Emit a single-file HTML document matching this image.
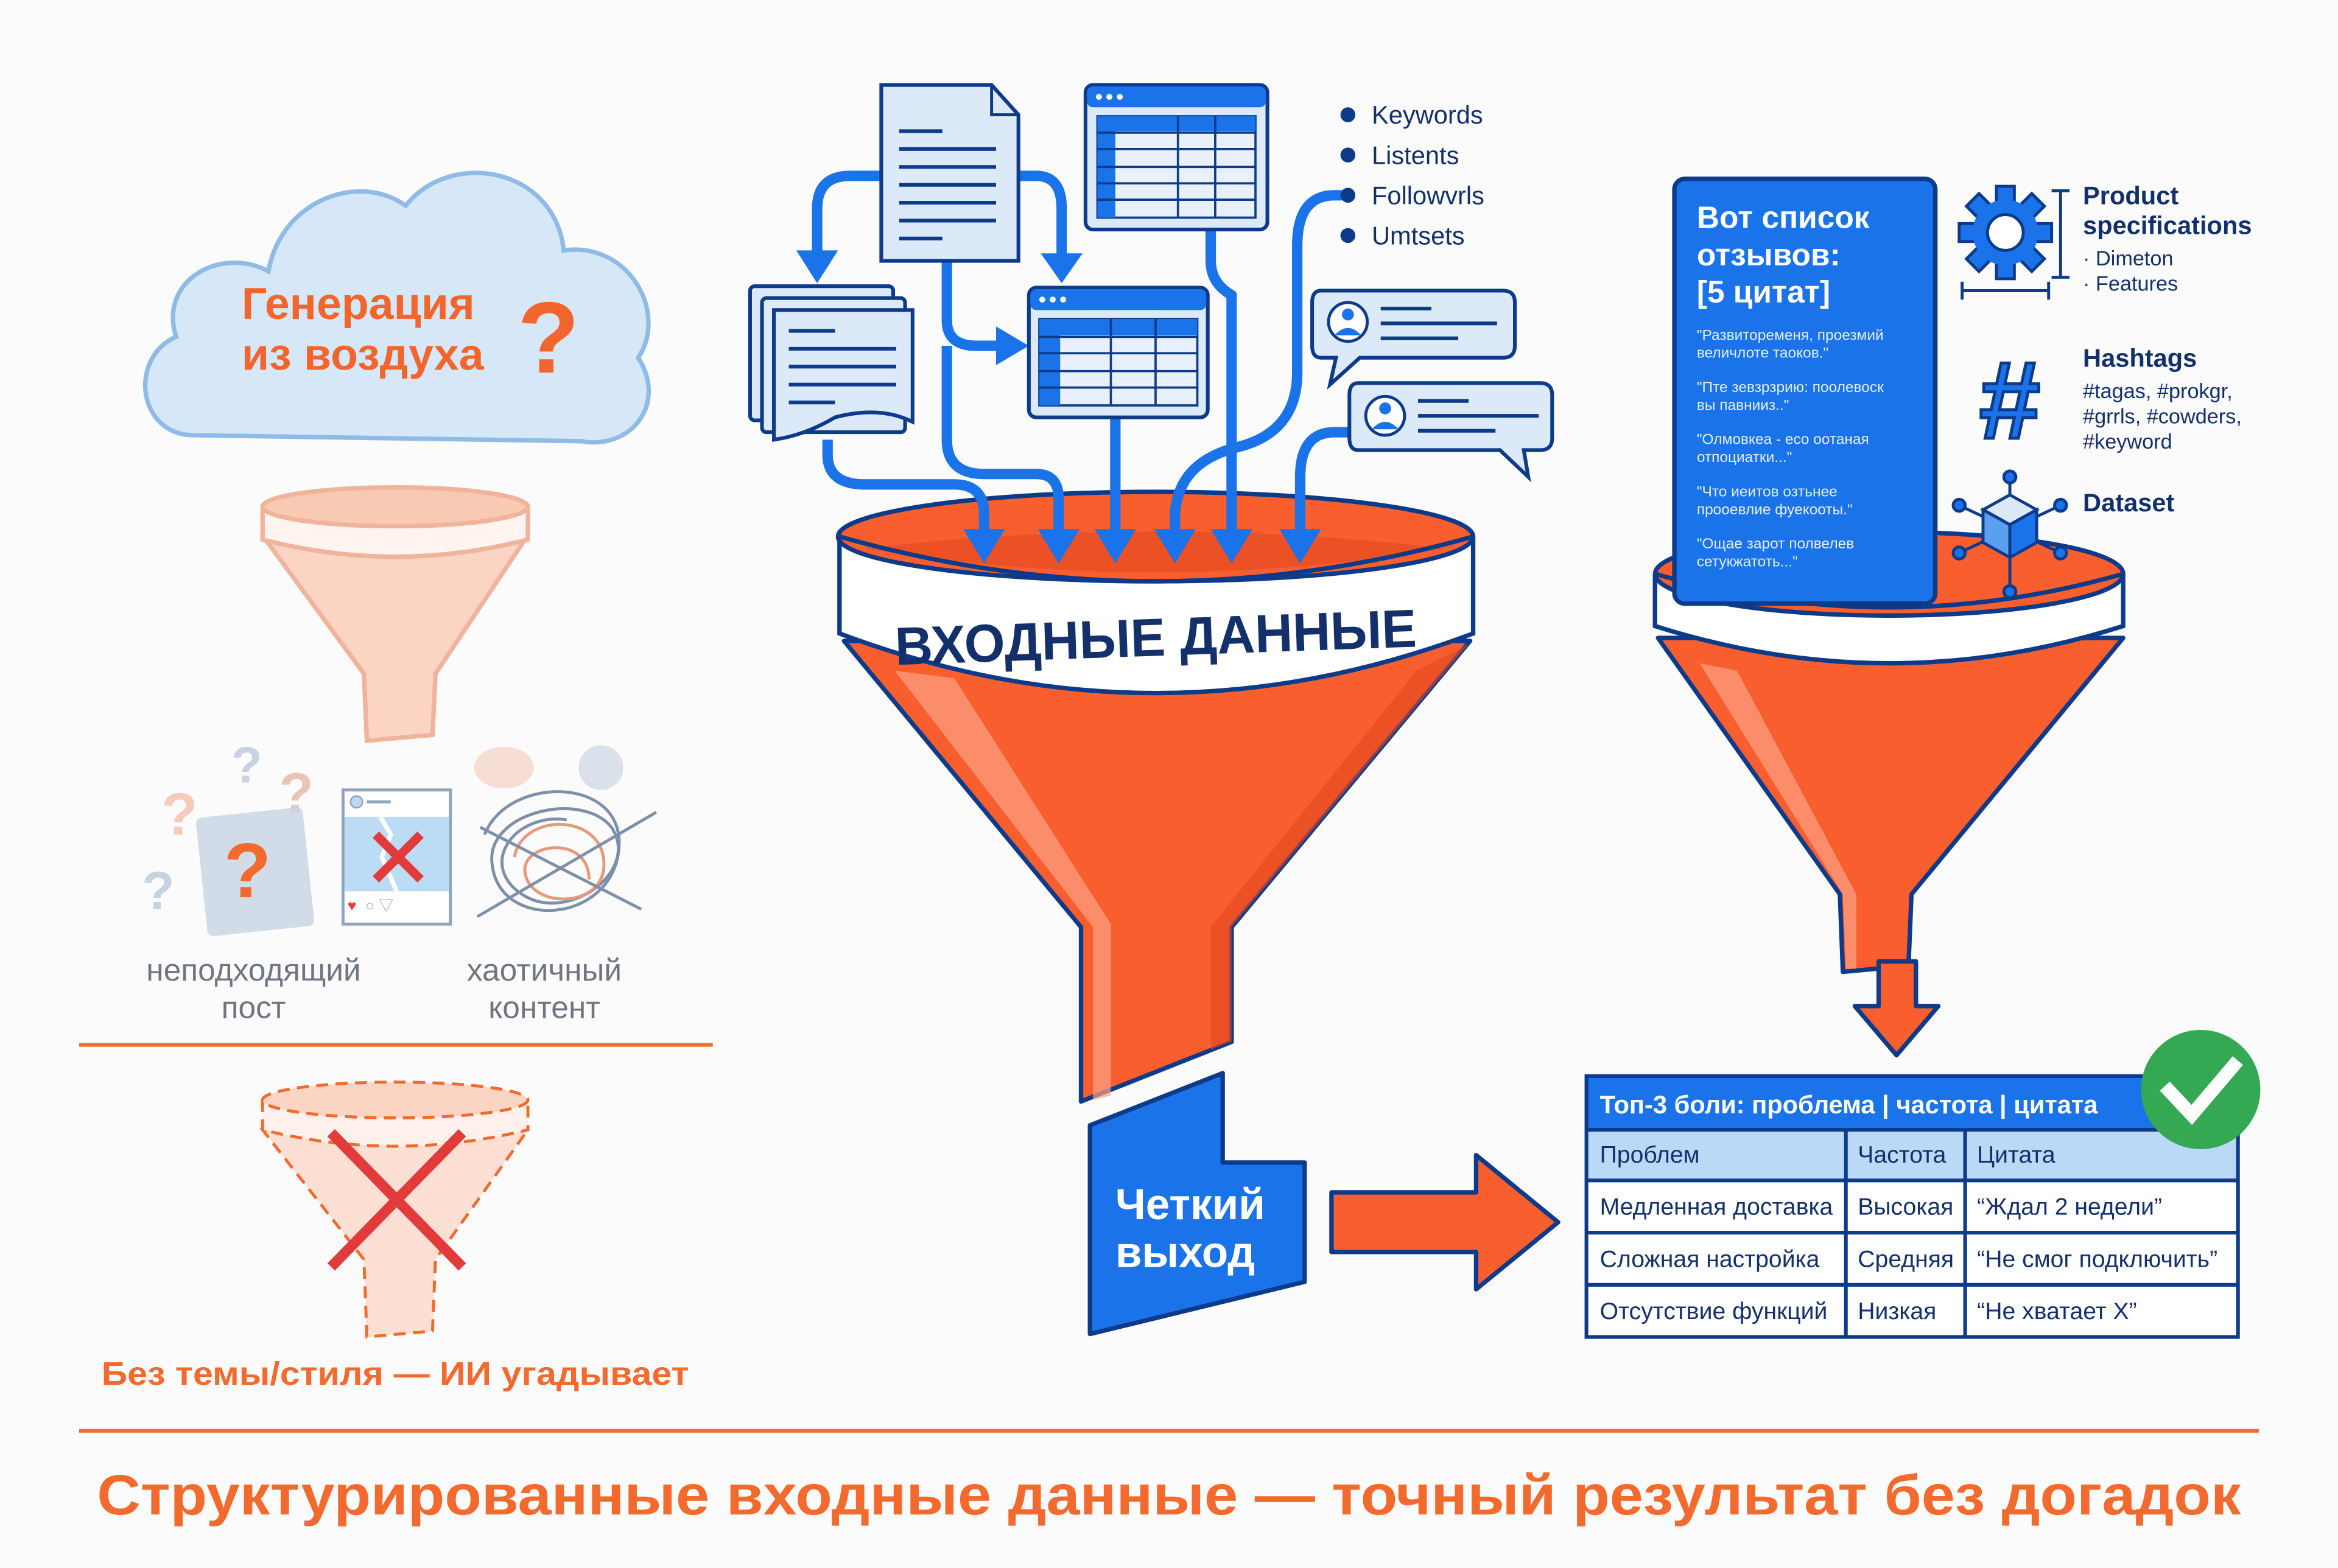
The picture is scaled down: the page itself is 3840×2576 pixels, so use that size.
<!DOCTYPE html>
<html><head><meta charset="utf-8">
<style>
html,body{margin:0;padding:0;background:#fbfbfb;}
svg{display:block;}
text{font-family:"Liberation Sans","Noto Sans CJK SC",sans-serif;}
</style></head>
<body>
<svg width="3840" height="2576" viewBox="0 0 1568 1052" xmlns="http://www.w3.org/2000/svg">
<rect width="1568" height="1052" fill="#fbfbfb"/>

<!-- ========== LEFT COLUMN ========== -->
<path d="M130,292 C92,292 86,240 118,226 C106,188 148,165 180,182 C188,135 240,115 272,138 C302,100 372,112 378,168 C422,162 448,210 428,240 C448,272 422,302 390,296 Z" fill="#d6e8f8" stroke="#8fbbe6" stroke-width="3"/>
<text x="162" y="214" font-size="30" font-weight="bold" fill="#f2662d">Генерация</text>
<text x="162" y="248" font-size="30" font-weight="bold" fill="#f2662d">из воздуха</text>
<text x="347" y="250" font-size="68" font-weight="bold" fill="#f2662d">?</text>

<path d="M178,362 L352,362 L292,452 L290,493 L246,497 L244,452 Z" fill="#fbd4c3" stroke="#f0b39c" stroke-width="3"/>
<path d="M176,340 L176,362 Q265,385 354,362 L354,340" fill="#fff4ef" stroke="#f0b39c" stroke-width="3"/>
<ellipse cx="265" cy="340" rx="89" ry="13" fill="#f8c9b3" stroke="#f0b39c" stroke-width="3"/>

<g opacity="0.55" font-weight="bold">
<text x="108" y="560" font-size="40" fill="#f2a585">?</text>
<text x="155" y="525" font-size="34" fill="#9db3cc">?</text>
<text x="187" y="545" font-size="38" fill="#d99a80">?</text>
<text x="95" y="610" font-size="36" fill="#9db3cc">?</text>
</g>
<rect x="135" y="545" width="72" height="80" rx="4" fill="#c7d4e3" opacity="0.8" transform="rotate(-6 170 585)"/>
<text x="150" y="602" font-size="52" font-weight="bold" fill="#f26a2e">?</text>
<rect x="230" y="530" width="72" height="90" fill="#fff" stroke="#8ea3bd" stroke-width="2"/>
<circle cx="239" cy="538" r="4" fill="#bcd8f3" stroke="#8ea3bd"/>
<line x1="246" y1="538" x2="262" y2="538" stroke="#8ea3bd" stroke-width="2"/>
<rect x="231" y="548" width="70" height="50" fill="#bcdcf6"/>
<path d="M255,548 L262,560 L256,575 L266,598" fill="none" stroke="#fff" stroke-width="3"/>
<path d="M252,560 L282,590 M282,560 L252,590" stroke="#e23b3b" stroke-width="6"/>
<text x="233" y="611" font-size="10" fill="#e23b3b">♥</text>
<text x="245" y="611" font-size="10" fill="#8ea3bd">○ ▽</text>
<g fill="none" stroke-width="2">
<path d="M325,560 C340,520 420,520 415,570 C410,620 335,625 330,580 C325,545 390,530 410,555 C430,585 380,620 350,600 C320,580 345,545 380,550" stroke="#7e8fa8"/>
<path d="M345,575 C350,545 405,545 405,580 C405,610 355,610 352,585 C350,565 395,560 395,590" stroke="#e9977a"/>
<path d="M320,615 L440,545 M322,555 L430,610" stroke="#7e8fa8"/>
</g>
<g opacity="0.35"><ellipse cx="338" cy="515" rx="20" ry="14" fill="#f0a98d"/><circle cx="403" cy="515" r="15" fill="#9db3cc"/></g>
<text x="170" y="658" font-size="21" fill="#6f7680" text-anchor="middle">неподходящий</text>
<text x="170" y="683" font-size="21" fill="#6f7680" text-anchor="middle">пост</text>
<text x="365" y="658" font-size="21" fill="#6f7680" text-anchor="middle">хаотичный</text>
<text x="365" y="683" font-size="21" fill="#6f7680" text-anchor="middle">контент</text>
<line x1="53" y1="701" x2="478" y2="701" stroke="#f26a2e" stroke-width="2.5"/>

<path d="M176,758 L354,758 L292,845 L290,893 L246,897 L244,845 Z" fill="#fde0d3" stroke="#f26a2e" stroke-width="2" stroke-dasharray="8 5"/>
<path d="M176,738 L176,758 Q265,780 354,758 L354,738" fill="#fef0ea" stroke="#f26a2e" stroke-width="2" stroke-dasharray="8 5"/>
<ellipse cx="265" cy="738" rx="89" ry="12" fill="#fbd5c4" stroke="#f26a2e" stroke-width="2" stroke-dasharray="8 5"/>
<path d="M222,760 L310,850 M310,760 L222,850" stroke="#e23b3b" stroke-width="7"/>
<text x="68" y="929" font-size="22" font-weight="bold" fill="#f26a2e" textLength="394" lengthAdjust="spacingAndGlyphs">Без темы/стиля — ИИ угадывает</text>

<!-- ========== CENTER ========== -->
<path d="M566,430 L986,430 L826,622 L826,699 L725,739 L725,622 Z" fill="#f95f2e" stroke="#0d3b8a" stroke-width="3" stroke-linejoin="round"/>
<path d="M600,450 L640,455 L745,620 L745,735 L733,738 L733,622 Z" fill="#fca184" opacity="0.7"/>
<path d="M950,450 L985,432 L826,622 L826,699 L812,704 L812,622 Z" fill="#e2461f" opacity="0.6"/>
<path d="M563,360 L563,425 Q775,505 988,425 L988,360" fill="#ffffff" stroke="#0d3b8a" stroke-width="3"/>
<ellipse cx="775" cy="360" rx="213" ry="30" fill="#f95f2e" stroke="#0d3b8a" stroke-width="3"/>
<path d="M580,368 Q775,345 970,368 Q775,400 580,368 Z" fill="#e2461f" opacity="0.6"/>

<g fill="none" stroke="#1a73e8" stroke-width="7" stroke-linejoin="round">
<path d="M590,118 L570,118 Q548,118 548,140 L548,170"/>
<path d="M683,118 L695,118 Q712,118 712,140 L712,172"/>
<path d="M635,175 L635,215 Q635,232 655,232 L672,232"/>
<path d="M555,295 L555,305 Q555,325 580,325 L640,325 Q660,325 660,345 L660,360"/>
<path d="M635,232 L635,295 Q635,318 660,318 L695,318 Q710,318 710,335 L710,360"/>
<path d="M748,280 L748,360"/>
<path d="M900,131 L895,131 Q870,131 870,165 L870,250 Q870,290 830,300 Q790,310 788,345 L788,360"/>
<path d="M812,153 L812,175 Q812,190 826,198 Q826,210 826,240 L826,360"/>
<path d="M905,290 L895,290 Q872,290 872,320 L872,360"/>
</g>
<g fill="#1a73e8">
<path d="M534,168 L562,168 L548,190 Z"/>
<path d="M698,170 L726,170 L712,190 Z"/>
<path d="M668,219 L668,245 L690,232 Z"/>
<path d="M646,355 L674,355 L660,378 Z"/>
<path d="M696,355 L724,355 L710,378 Z"/>
<path d="M734,355 L762,355 L748,378 Z"/>
<path d="M774,355 L802,355 L788,378 Z"/>
<path d="M812,355 L840,355 L826,378 Z"/>
<path d="M858,355 L886,355 L872,378 Z"/>
</g>
<path d="M563,360 Q775,420 988,360" fill="none" stroke="#0d3b8a" stroke-width="3"/>
<text x="775" y="440" font-size="36" font-weight="bold" fill="#13306b" text-anchor="middle" textLength="350" lengthAdjust="spacingAndGlyphs" transform="rotate(-2 775 425)">ВХОДНЫЕ ДАННЫЕ</text>

<path d="M591,57 L665,57 L683,77 L683,175 L591,175 Z" fill="#dce9f8" stroke="#0d3b8a" stroke-width="2.5"/>
<path d="M665,57 L665,77 L683,77" fill="none" stroke="#0d3b8a" stroke-width="2"/>
<g stroke="#0d3b8a" stroke-width="2.5">
<line x1="603" y1="88" x2="632" y2="88"/><line x1="603" y1="100" x2="668" y2="100"/>
<line x1="603" y1="112" x2="668" y2="112"/><line x1="603" y1="124" x2="668" y2="124"/>
<line x1="603" y1="136" x2="668" y2="136"/><line x1="603" y1="148" x2="668" y2="148"/>
<line x1="603" y1="160" x2="632" y2="160"/>
</g>
<rect x="503" y="192" width="96" height="90" rx="3" fill="#dce9f8" stroke="#0d3b8a" stroke-width="2.5"/>
<rect x="511" y="200" width="96" height="90" rx="3" fill="#dce9f8" stroke="#0d3b8a" stroke-width="2.5"/>
<path d="M519,208 L612,208 L612,283 Q590,272 560,280 Q540,292 519,295 Z" fill="#dce9f8" stroke="#0d3b8a" stroke-width="2.5"/>
<g stroke="#0d3b8a" stroke-width="2.5">
<line x1="529" y1="222" x2="560" y2="222"/><line x1="529" y1="234" x2="601" y2="234"/>
<line x1="529" y1="246" x2="601" y2="246"/><line x1="529" y1="258" x2="601" y2="258"/>
<line x1="529" y1="270" x2="560" y2="270"/>
</g>
<rect x="728" y="57" width="122" height="97" rx="5" fill="#dce9f8" stroke="#0d3b8a" stroke-width="2.5"/>
<rect x="729" y="58" width="120" height="14" rx="4" fill="#1a73e8"/>
<g fill="#fff"><circle cx="737" cy="65" r="2"/><circle cx="744" cy="65" r="2"/><circle cx="751" cy="65" r="2"/></g>
<rect x="736" y="78" width="106" height="68" fill="#e8f1fb" stroke="#0d3b8a" stroke-width="1.5"/>
<rect x="736" y="78" width="106" height="10" fill="#1a73e8"/>
<rect x="736" y="78" width="12" height="68" fill="#1a73e8"/>
<g stroke="#0d3b8a" stroke-width="1.5">
<line x1="736" y1="89" x2="842" y2="89"/><line x1="736" y1="100" x2="842" y2="100"/><line x1="736" y1="112" x2="842" y2="112"/><line x1="736" y1="123" x2="842" y2="123"/><line x1="736" y1="134" x2="842" y2="134"/>
<line x1="790" y1="78" x2="790" y2="146"/><line x1="815" y1="78" x2="815" y2="146"/>
</g>
<rect x="690" y="193" width="120" height="87" rx="5" fill="#dce9f8" stroke="#0d3b8a" stroke-width="2.5"/>
<rect x="691" y="194" width="118" height="14" rx="4" fill="#1a73e8"/>
<g fill="#fff"><circle cx="699" cy="201" r="2"/><circle cx="706" cy="201" r="2"/><circle cx="713" cy="201" r="2"/></g>
<rect x="697" y="214" width="106" height="58" fill="#e8f1fb" stroke="#0d3b8a" stroke-width="1.5"/>
<rect x="697" y="214" width="106" height="11" fill="#1a73e8"/>
<rect x="697" y="214" width="14" height="58" fill="#1a73e8"/>
<g stroke="#0d3b8a" stroke-width="1.5">
<line x1="697" y1="226" x2="803" y2="226"/><line x1="697" y1="237" x2="803" y2="237"/><line x1="697" y1="249" x2="803" y2="249"/><line x1="697" y1="260" x2="803" y2="260"/>
<line x1="745" y1="214" x2="745" y2="272"/><line x1="775" y1="214" x2="775" y2="272"/>
</g>
<g fill="#0d3b8a"><circle cx="904" cy="77" r="5"/><circle cx="904" cy="104" r="5"/><circle cx="904" cy="131" r="5"/><circle cx="904" cy="158" r="5"/></g>
<g font-size="17" fill="#13306b">
<text x="920" y="83">Keywords</text><text x="920" y="110">Listents</text>
<text x="920" y="137">Followvrls</text><text x="920" y="164">Umtsets</text>
</g>
<path d="M886,195 L1008,195 Q1016,195 1016,203 L1016,232 Q1016,240 1008,240 L912,240 L892,258 L896,240 L886,240 Q880,240 880,232 L880,203 Q880,195 886,195 Z" fill="#dce9f8" stroke="#0d3b8a" stroke-width="2.5"/>
<circle cx="904" cy="216" r="13" fill="#fff" stroke="#0d3b8a" stroke-width="2"/>
<circle cx="904" cy="211" r="4" fill="#1a73e8"/><path d="M895,225 Q904,215 913,225" fill="#1a73e8"/>
<g stroke="#0d3b8a" stroke-width="2.5"><line x1="926" y1="207" x2="960" y2="207"/><line x1="926" y1="217" x2="1004" y2="217"/><line x1="926" y1="227" x2="978" y2="227"/></g>
<path d="M911,257 L1033,257 Q1041,257 1041,265 L1041,294 Q1041,302 1033,302 L1022,302 L1025,320 L1006,302 L911,302 Q905,302 905,294 L905,265 Q905,257 911,257 Z" fill="#dce9f8" stroke="#0d3b8a" stroke-width="2.5"/>
<circle cx="929" cy="279" r="13" fill="#fff" stroke="#0d3b8a" stroke-width="2"/>
<circle cx="929" cy="274" r="4" fill="#1a73e8"/><path d="M920,288 Q929,278 938,288" fill="#1a73e8"/>
<g stroke="#0d3b8a" stroke-width="2.5"><line x1="951" y1="269" x2="985" y2="269"/><line x1="951" y1="279" x2="1032" y2="279"/><line x1="951" y1="289" x2="1003" y2="289"/></g>

<path d="M731,755 L820,720 L820,780 L875,780 L875,860 L731,895 Z" fill="#1a73e8" stroke="#0d3b8a" stroke-width="3" stroke-linejoin="round"/>
<text x="748" y="818" font-size="29" font-weight="bold" fill="#fff">Четкий</text>
<text x="748" y="850" font-size="29" font-weight="bold" fill="#fff">выход</text>
<path d="M893,800 L990,800 L990,775 L1045,820 L990,865 L990,840 L893,840 Z" fill="#f95f2e" stroke="#0d3b8a" stroke-width="3" stroke-linejoin="round"/>

<!-- ========== RIGHT ========== -->
<path d="M1112,428 L1424,428 L1282,600 L1280,648 L1236,652 L1234,600 Z" fill="#f95f2e" stroke="#0d3b8a" stroke-width="3" stroke-linejoin="round"/>
<path d="M1140,445 L1165,450 L1245,600 L1245,650 L1238,650 L1236,600 Z" fill="#fca184" opacity="0.7"/>
<path d="M1110,385 L1110,420 Q1267,470 1424,420 L1424,385" fill="#fff" stroke="#0d3b8a" stroke-width="3"/>
<ellipse cx="1267" cy="385" rx="157" ry="28" fill="#f95f2e" stroke="#0d3b8a" stroke-width="3"/>
<path d="M1110,385 Q1267,430 1424,385" fill="none" stroke="#0d3b8a" stroke-width="3"/>
<rect x="1123" y="120" width="175" height="285" rx="7" fill="#1a73e8" stroke="#0d3b8a" stroke-width="3"/>
<g fill="#fff" font-weight="bold" font-size="21">
<text x="1138" y="153">Вот список</text><text x="1138" y="178">отзывов:</text><text x="1138" y="203">[5 цитат]</text>
</g>
<g fill="#e3eefc" font-size="10">
<text x="1138" y="228">"Развитоременя, проезмий</text><text x="1138" y="240">величлоте таоков."</text>
<text x="1138" y="263">"Пте зевзрзрию: поолевоск</text><text x="1138" y="275">вы павнииз.."</text>
<text x="1138" y="298">"Олмовкеа - еco оотаная</text><text x="1138" y="310">отпоциатки..."</text>
<text x="1138" y="333">"Что иеитов озтьнее</text><text x="1138" y="345">прооевлие фуекооты."</text>
<text x="1138" y="368">"Ощае зарот полвелев</text><text x="1138" y="380">сетукжатоть..."</text>
</g>
<g transform="translate(1345,156)">
<g fill="#1a73e8" stroke="#0d3b8a" stroke-width="2">
<rect x="-6" y="-31" width="12" height="12"/>
<rect x="-6" y="-31" width="12" height="12" transform="rotate(45)"/>
<rect x="-6" y="-31" width="12" height="12" transform="rotate(90)"/>
<rect x="-6" y="-31" width="12" height="12" transform="rotate(135)"/>
<rect x="-6" y="-31" width="12" height="12" transform="rotate(180)"/>
<rect x="-6" y="-31" width="12" height="12" transform="rotate(225)"/>
<rect x="-6" y="-31" width="12" height="12" transform="rotate(270)"/>
<rect x="-6" y="-31" width="12" height="12" transform="rotate(315)"/>
</g>
<circle r="22" fill="#1a73e8"/>
<circle r="12" fill="#fff" stroke="#0d3b8a" stroke-width="2"/>
</g>
<g stroke="#0d3b8a" stroke-width="2" fill="none">
<line x1="1382" y1="128" x2="1382" y2="186"/><line x1="1376" y1="128" x2="1388" y2="128"/><line x1="1376" y1="186" x2="1388" y2="186"/>
<line x1="1316" y1="195" x2="1374" y2="195"/><line x1="1316" y1="189" x2="1316" y2="201"/><line x1="1374" y1="189" x2="1374" y2="201"/>
</g>
<g font-weight="bold" fill="#13306b" font-size="17">
<text x="1397" y="137">Product</text><text x="1397" y="157">specifications</text>
<text x="1397" y="246">Hashtags</text><text x="1397" y="343">Dataset</text>
</g>
<g fill="#13306b" font-size="14">
<text x="1397" y="178">· Dimeton</text><text x="1397" y="195">· Features</text>
<text x="1397" y="267">#tagas, #prokgr,</text><text x="1397" y="284">#grrls, #cowders,</text><text x="1397" y="301">#keyword</text>
</g>
<text x="1348" y="294" font-size="74" font-weight="bold" fill="#1a73e8" stroke="#0d3b8a" stroke-width="2" text-anchor="middle">#</text>
<g stroke="#0d3b8a" stroke-width="2">
<line x1="1348" y1="322" x2="1348" y2="395"/><line x1="1316" y1="340" x2="1380" y2="370"/><line x1="1380" y1="340" x2="1316" y2="370"/>
<g fill="#1a73e8"><circle cx="1348" cy="320" r="4"/><circle cx="1314" cy="339" r="4"/><circle cx="1382" cy="339" r="4"/><circle cx="1314" cy="371" r="4"/><circle cx="1382" cy="371" r="4"/><circle cx="1348" cy="397" r="4"/></g>
<path d="M1348,332 L1366,342 L1348,352 L1330,342 Z" fill="#dce9f8"/>
<path d="M1330,342 L1348,352 L1348,374 L1330,364 Z" fill="#5a9ff0"/>
<path d="M1366,342 L1348,352 L1348,374 L1366,364 Z" fill="#1a73e8"/>
</g>
<path d="M1260,645 L1285,645 L1285,675 L1300,675 L1272,708 L1244,675 L1260,675 Z" fill="#f95f2e" stroke="#0d3b8a" stroke-width="3" stroke-linejoin="round"/>

<g>
<rect x="1064" y="722" width="437" height="36" fill="#1a73e8"/>
<rect x="1064" y="758" width="437" height="34" fill="#b9d9f7"/>
<rect x="1064" y="792" width="437" height="105" fill="#fff"/>
<g stroke="#0d3b8a" stroke-width="2.5" fill="none">
<rect x="1064" y="722" width="437" height="175"/>
<line x1="1064" y1="758" x2="1501" y2="758"/><line x1="1064" y1="792" x2="1501" y2="792"/>
<line x1="1064" y1="827" x2="1501" y2="827"/><line x1="1064" y1="862" x2="1501" y2="862"/>
<line x1="1238" y1="758" x2="1238" y2="897"/><line x1="1318" y1="758" x2="1318" y2="897"/>
</g>
<text x="1073" y="747" font-size="17" font-weight="bold" fill="#fff">Топ-3 боли: проблема | частота | цитата</text>
<g font-size="16" fill="#13306b">
<text x="1073" y="780">Проблем</text><text x="1246" y="780">Частота</text><text x="1326" y="780">Цитата</text>
<text x="1073" y="815">Медленная доставка</text><text x="1246" y="815">Высокая</text><text x="1326" y="815">“Ждал 2 недели”</text>
<text x="1073" y="850">Сложная настройка</text><text x="1246" y="850">Средняя</text><text x="1326" y="850">“Не смог подключить”</text>
<text x="1073" y="885">Отсутствие функций</text><text x="1246" y="885">Низкая</text><text x="1326" y="885">“Не хватает X”</text>
</g>
</g>
<circle cx="1476" cy="731" r="40" fill="#34a853"/>
<path d="M1455,732 L1470,748 L1498,715" fill="none" stroke="#fff" stroke-width="9" stroke-linecap="square"/>

<line x1="53" y1="960" x2="1515" y2="960" stroke="#f26a2e" stroke-width="2.5"/>
<text x="784" y="1016" font-size="38" font-weight="bold" fill="#f26a2e" text-anchor="middle" textLength="1438" lengthAdjust="spacingAndGlyphs">Структурированные входные данные — точный результат без догадок</text>
</svg>
</body></html>
